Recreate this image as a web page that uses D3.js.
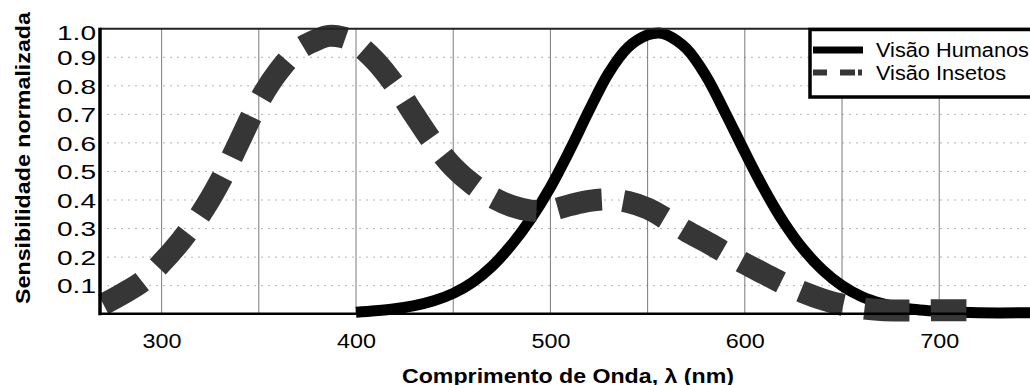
<!DOCTYPE html>
<html>
<head>
<meta charset="utf-8">
<script src="https://cdn.jsdelivr.net/npm/d3@7"></script>
<style>
  body { margin: 0; background: #fff; }
  svg { display: block; }
</style>
</head>
<body>
<svg id="chart" width="1030" height="385"></svg>
<script>
// Spectral sensitivity curves (normalised)
const insectWavelengths = [270, 280, 290, 300, 310, 320, 330, 340, 350, 360, 370, 380, 386, 393, 400,
  410, 420, 430, 440, 450, 460, 470, 480, 490, 500, 510, 520, 530, 540, 550, 560, 570, 580, 590, 600,
  610, 620, 630, 640, 650, 660, 670, 680, 690, 700, 714];
const insectSensitivity = [0.035, 0.072, 0.114, 0.18, 0.258, 0.35, 0.465, 0.605, 0.745, 0.85, 0.925, 0.962, 0.975, 0.97, 0.948,
  0.887, 0.802, 0.698, 0.598, 0.515, 0.455, 0.41, 0.379, 0.363, 0.364, 0.382, 0.397, 0.402, 0.393, 0.37, 0.332, 0.291, 0.254, 0.215, 0.177,
  0.142, 0.107, 0.077, 0.052, 0.033, 0.021, 0.015, 0.013, 0.013, 0.014, 0.014];

const humanWavelengths = [400, 410, 420, 430, 440, 450, 460, 470, 480, 490, 500, 510, 520, 530, 540, 550, 556, 560,
  570, 580, 590, 600, 610, 620, 630, 640, 650, 660, 670, 680, 690, 700, 710, 720, 750];
const humanSensitivity = [0.007, 0.012, 0.019, 0.03, 0.047, 0.073, 0.112, 0.168, 0.243, 0.335, 0.445, 0.575, 0.715, 0.845, 0.935, 0.978, 0.985, 0.978,
  0.93, 0.835, 0.705, 0.568, 0.437, 0.322, 0.228, 0.155, 0.1, 0.062, 0.038, 0.023, 0.015, 0.01, 0.007, 0.005, 0.005];

const xTickValues = [300, 400, 500, 600, 700];
const xTickLabels = ["300", "400", "500", "600", "700"];
const yTickValues = [0.1, 0.2, 0.3, 0.4, 0.5, 0.6, 0.7, 0.8, 0.9, 1.0];
const yTickLabels = ["0.1", "0.2", "0.3", "0.4", "0.5", "0.6", "0.7", "0.8", "0.9", "1.0"];
const xGridValues = [300, 350, 400, 450, 500, 550, 600, 650, 700];
const seriesNames = ["Visão Humanos", "Visão Insetos"];
const xTitle = "Comprimento de Onda, λ (nm)";
const yTitle = "Sensibilidade normalizada";

const FONT = "'Liberation Sans', Arial, Helvetica, sans-serif";
const svg = d3.select("#chart");

const plotLeft = 100, plotRight = 1030, plotTop = 28.7, plotBottom = 314.2;
const x = d3.scaleLinear().domain([268.3, 746.7]).range([plotLeft, plotRight]);
const y = d3.scaleLinear().domain([0, 1]).range([plotBottom, plotTop]);

// horizontal dotted grid
svg.append("g").selectAll("line")
  .data(yTickValues.filter(v => v < 1))
  .join("line")
  .attr("x1", plotLeft).attr("x2", plotRight)
  .attr("y1", d => y(d)).attr("y2", d => y(d))
  .attr("stroke", "#b4b4b4").attr("stroke-width", 1)
  .attr("stroke-dasharray", "2,5");

// vertical grid every 50 nm
svg.append("g").selectAll("line")
  .data(xGridValues)
  .join("line")
  .attr("x1", d => x(d)).attr("x2", d => x(d))
  .attr("y1", y(0)).attr("y2", y(1))
  .attr("stroke", "#7a7a7a").attr("stroke-width", 1);

const line = d3.line().curve(d3.curveCatmullRom.alpha(0.5));

// human photopic curve
svg.append("path")
  .attr("d", line(humanWavelengths.map((w, i) => [x(w), y(humanSensitivity[i])])))
  .attr("fill", "none").attr("stroke", "#000").attr("stroke-width", 11)
  .attr("stroke-linejoin", "round");

// insect curve, heavy dashes
svg.append("path")
  .attr("d", line(insectWavelengths.map((w, i) => [x(w), y(insectSensitivity[i])])))
  .attr("fill", "none").attr("stroke", "#363636").attr("stroke-width", 22)
  .attr("stroke-dasharray", "45,21.5").attr("stroke-linecap", "butt");

// frame
svg.append("line").attr("x1", plotLeft).attr("x2", plotRight).attr("y1", plotTop).attr("y2", plotTop)
  .attr("stroke", "#222").attr("stroke-width", 2);
svg.append("line").attr("x1", plotLeft).attr("x2", plotRight).attr("y1", plotBottom - 0.5).attr("y2", plotBottom - 0.5)
  .attr("stroke", "#000").attr("stroke-width", 2.5);
svg.append("line").attr("x1", plotLeft).attr("x2", plotLeft).attr("y1", plotTop - 1).attr("y2", plotBottom + 1)
  .attr("stroke", "#000").attr("stroke-width", 3.5);

// x axis labels
const xAxis = d3.axisBottom(x).tickValues(xTickValues)
  .tickFormat((d, i) => xTickLabels[i]).tickSize(0).tickPadding(20);
const gx = svg.append("g").attr("transform", `translate(0,${plotBottom})`).call(xAxis);
gx.select(".domain").remove();
gx.selectAll("text")
  .attr("font-family", FONT).attr("font-size", 19.5).attr("fill", "#000")
  .attr("textLength", 39).attr("lengthAdjust", "spacingAndGlyphs");

// y axis labels
const yAxis = d3.axisLeft(y).tickValues(yTickValues)
  .tickFormat((d, i) => yTickLabels[i]).tickSize(0).tickPadding(4);
const gy = svg.append("g").attr("transform", `translate(${plotLeft},0)`).call(yAxis);
gy.select(".domain").remove();
gy.selectAll("text")
  .attr("font-family", FONT).attr("font-size", 19.5).attr("fill", "#000")
  .attr("dy", d => d === 1 ? "0.56em" : "0.37em")
  .attr("textLength", 39).attr("lengthAdjust", "spacingAndGlyphs");

// axis titles
svg.append("text")
  .attr("x", 568).attr("y", 382.5)
  .attr("text-anchor", "middle")
  .attr("font-family", FONT).attr("font-size", 19.5).attr("font-weight", "bold")
  .attr("textLength", 332).attr("lengthAdjust", "spacingAndGlyphs")
  .text(xTitle);

svg.append("text")
  .attr("transform", "translate(29.5,158) rotate(-90)")
  .attr("text-anchor", "middle")
  .attr("font-family", FONT).attr("font-size", 19.5).attr("font-weight", "bold")
  .attr("textLength", 292).attr("lengthAdjust", "spacingAndGlyphs")
  .text(yTitle);

// legend
const lg = svg.append("g");
lg.append("rect").attr("x", 810).attr("y", 29.5).attr("width", 240).attr("height", 67.5)
  .attr("fill", "#fff").attr("stroke", "#000").attr("stroke-width", 3.5);
lg.append("line").attr("x1", 813).attr("x2", 863).attr("y1", 50).attr("y2", 50)
  .attr("stroke", "#000").attr("stroke-width", 7);
lg.append("line").attr("x1", 813).attr("x2", 863).attr("y1", 72.5).attr("y2", 72.5)
  .attr("stroke", "#363636").attr("stroke-width", 6).attr("stroke-dasharray", "14,13,15,3,4,20");
lg.selectAll("text.entry")
  .data(seriesNames)
  .join("text")
  .attr("class", "entry")
  .attr("x", 876).attr("y", (d, i) => i === 0 ? 56.7 : 79.5)
  .attr("font-family", FONT).attr("font-size", 19.5).attr("fill", "#000")
  .attr("textLength", (d, i) => i === 0 ? 153 : 130).attr("lengthAdjust", "spacingAndGlyphs")
  .text(d => d);
</script>
</body>
</html>
